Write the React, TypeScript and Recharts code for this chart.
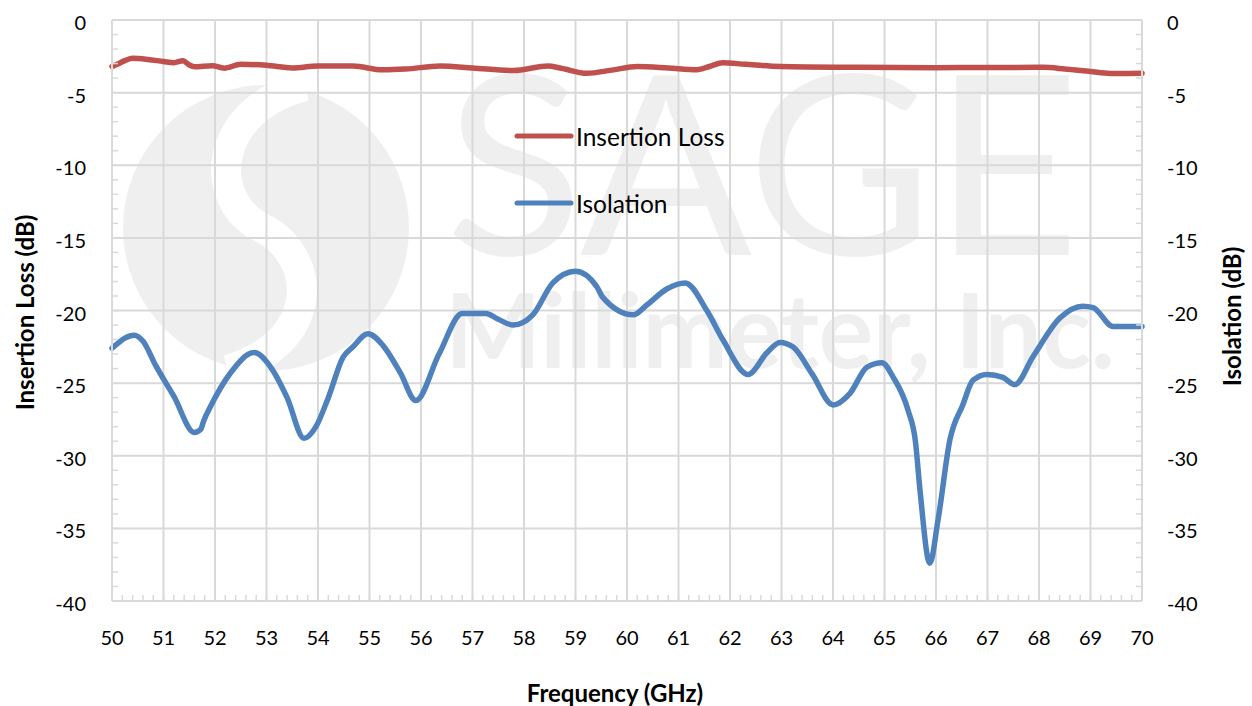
import React from 'react'
import { LineChart, Line, XAxis, YAxis, CartesianGrid, Legend, Label } from 'recharts'

// ─── Data ──────────────────────────────────────────────────────────────────
const freqMajor = [50, 51, 52, 53, 54, 55, 56, 57, 58, 59, 60, 61, 62, 63, 64, 65, 66, 67, 68, 69, 70]
const dbMajor = [-40, -35, -30, -25, -20, -15, -10, -5, 0]

const ilFreq = [
  50.0, 50.1, 50.25, 50.4, 50.7, 51.0, 51.2, 51.38, 51.5, 51.6, 51.95, 52.18, 52.5, 53.0, 53.5, 54.0,
  54.68, 55.25, 55.7, 56.37, 57.0, 57.8, 58.47, 58.7, 59.22, 59.7, 60.2, 60.8, 61.36, 61.6, 61.86,
  62.3, 62.97, 64.5, 66.0, 67.0, 68.08, 68.5, 69.0, 69.38, 70.0,
]
const ilValues = [
  -3.2, -3.05, -2.8, -2.64, -2.72, -2.86, -2.94, -2.8, -3.1, -3.22, -3.15, -3.32, -3.05, -3.12, -3.3, -3.17,
  -3.17, -3.43, -3.38, -3.17, -3.3, -3.48, -3.17, -3.3, -3.67, -3.45, -3.2, -3.3, -3.42, -3.2, -2.94,
  -3.05, -3.2, -3.26, -3.28, -3.27, -3.26, -3.37, -3.55, -3.68, -3.67,
]

const isoFreq = [
  50.0, 50.1, 50.25, 50.43, 50.6, 50.85, 51.2, 51.6, 51.72, 51.78, 51.9, 52.3, 52.76, 53.1, 53.4, 53.73,
  53.96, 54.2, 54.49, 54.68, 54.97, 55.26, 55.6, 55.9, 56.35, 56.8, 57.26, 57.5, 57.79, 58.17, 58.56,
  59.0, 59.42, 59.53, 60.12, 60.39, 60.78, 61.13, 61.55, 61.86, 62.35, 62.72, 62.97, 63.22, 63.6, 64.0,
  64.33, 64.66, 64.95, 65.17, 65.46, 65.6, 65.69, 65.88, 66.04, 66.27, 66.52, 66.72, 66.99, 67.3, 67.53,
  67.88, 68.41, 68.85, 69.05, 69.44, 70.0,
]
const isoValues = [
  -22.6, -22.3, -21.9, -21.7, -22.1, -23.8, -25.9, -28.4, -28.2, -27.6, -26.7, -24.3, -22.9, -24.0, -26.0, -28.8,
  -28.0, -26.0, -23.2, -22.5, -21.6, -22.4, -24.3, -26.2, -23.0, -20.2, -20.2, -20.6, -21.0, -20.3, -18.1,
  -17.3, -18.4, -19.1, -20.3, -19.6, -18.5, -18.1, -20.0, -22.0, -24.4, -22.9, -22.2, -22.5, -24.4, -26.5,
  -25.7, -23.9, -23.6, -24.6, -26.9, -29.0, -32.4, -37.4, -34.4, -28.9, -26.5, -24.8, -24.4, -24.6, -25.1,
  -23.2, -20.5, -19.7, -19.8, -21.1, -21.1,
]

const ilData = ilFreq.map((f, i) => ({ f, v: ilValues[i] }))
const isoData = isoFreq.map((f, i) => ({ f, v: isoValues[i] }))

// minor ticks: x every 0.2 GHz, y every 1 dB
const freqTicks: number[] = []
freqMajor.forEach(m => {
  if (m === 70) { freqTicks.push(m); return }
  for (let k = 0; k < 5; k++) freqTicks.push(Math.round((m + k * 0.2) * 10) / 10)
})
const dbTicks: number[] = []
for (let d = -40; d <= 0; d++) dbTicks.push(d)

const FONT = "Lato, 'Open Sans', sans-serif"
const GRID = '#d9d9d9'
const RED = '#C0504D'
const BLUE = '#4F81BD'

const isInt = (v: number) => Math.abs(v - Math.round(v)) < 1e-6

// ─── Tick renderers ──────────────────────────────────────────────────────────
function XTick({ x, y, payload }: any) {
  if (!isInt(payload.value)) return null
  return (
    <text x={x} y={y + 42} textAnchor="middle" dominantBaseline="central" fontSize={20} fontFamily={FONT} fill="#000">
      {payload.value}
    </text>
  )
}

function LeftTick({ x, y, payload }: any) {
  if (payload.value % 5 !== 0) return null
  return (
    <text x={x - 32} y={y + 2} textAnchor="end" dominantBaseline="central" fontSize={20} fontFamily={FONT} fill="#000">
      {payload.value}
    </text>
  )
}

function RightTick({ x, y, payload }: any) {
  if (payload.value % 5 !== 0) return null
  return (
    <text x={x + 31} y={y + 2} textAnchor="start" dominantBaseline="central" fontSize={20} fontFamily={FONT} fill="#000">
      {payload.value}
    </text>
  )
}

// ─── Legend ──────────────────────────────────────────────────────────────────
function LegendBox() {
  const items = [
    { name: 'Insertion Loss', color: RED },
    { name: 'Isolation', color: BLUE },
  ]
  return (
    <div style={{ fontFamily: FONT, fontSize: 24.5, color: '#000' }}>
      {items.map((d, i) => (
        <div key={i} style={{ display: 'flex', alignItems: 'center', height: 30, marginBottom: i === 0 ? 37 : 0 }}>
          <svg width={60} height={10} style={{ marginRight: 2 }}>
            <line x1={3} y1={5} x2={57} y2={5} stroke={d.color} strokeWidth={5} strokeLinecap="round" />
          </svg>
          <span>{d.name}</span>
        </div>
      ))}
    </div>
  )
}

// ─── Watermark (plot area background) ────────────────────────────────────────
function Watermark() {
  const c = '#efefef'
  return (
    <svg width={1252} height={706} style={{ position: 'absolute', left: 0, top: 0 }}>
      <circle cx={266} cy={228} r={143} fill={c} />
      <path d="M 305 86 C 212 110, 206 200, 262 228 C 318 256, 322 342, 228 370" fill="none" stroke="#fff" strokeWidth={30} />
      <text x={445} y={255} fontFamily={FONT} fontWeight={400} fontSize={250} fill={c} textLength={635} lengthAdjust="spacingAndGlyphs">
        SAGE
      </text>
      <text x={445} y={368} fontFamily={FONT} fontWeight={700} fontSize={104} fill={c} textLength={670} lengthAdjust="spacingAndGlyphs">
        Millimeter, Inc.
      </text>
    </svg>
  )
}

const xToPx = (f: number, o: any) => o.left + ((f - 50) / 20) * o.width
const yToPx = (d: number, o: any) => o.top + (-d / 40) * o.height

export default function App() {
  return (
    <div style={{ position: 'absolute', left: 0, top: 0, width: 1252, height: 706, background: '#fff' }}>
      <Watermark />
      <div style={{ position: 'absolute', left: 0, top: 0 }}>
        <LineChart width={1252} height={706} margin={{ top: 20, right: 0, bottom: 0, left: 0 }}>
          <CartesianGrid
            stroke={GRID}
            strokeWidth={2}
            verticalCoordinatesGenerator={({ offset }: any) => freqMajor.map(f => xToPx(f, offset))}
            horizontalCoordinatesGenerator={({ offset }: any) => dbMajor.map(d => yToPx(d, offset))}
          />
          <XAxis
            dataKey="f"
            type="number"
            domain={[50, 70]}
            ticks={freqTicks}
            interval={0}
            height={105}
            axisLine={{ stroke: GRID, strokeWidth: 2 }}
            tickLine={{ stroke: GRID, strokeWidth: 1.5 }}
            tickSize={-6}
            tickMargin={0}
            tick={<XTick />}
            allowDuplicatedCategory={false}
          >
            <Label
              content={({ viewBox }: any) => (
                <text
                  x={viewBox.x + viewBox.width / 2 - 12}
                  y={viewBox.y + 91}
                  textAnchor="middle"
                  dominantBaseline="central"
                  fontSize={24}
                  fontWeight={700}
                  fontFamily={FONT}
                  fill="#000"
                >
                  Frequency (GHz)
                </text>
              )}
            />
          </XAxis>
          <YAxis
            yAxisId="left"
            type="number"
            domain={[-40, 0]}
            ticks={dbTicks}
            interval={0}
            width={112}
            axisLine={{ stroke: GRID, strokeWidth: 2 }}
            tickLine={{ stroke: GRID, strokeWidth: 1.5 }}
            tickSize={-6}
            tickMargin={0}
            tick={<LeftTick />}
            allowDataOverflow
          >
            <Label
              content={({ viewBox }: any) => {
                const cx = viewBox.x + 24
                const cy = viewBox.y + viewBox.height / 2 + 2
                return (
                  <text
                    x={cx}
                    y={cy}
                    transform={`rotate(-90, ${cx}, ${cy})`}
                    textAnchor="middle"
                    dominantBaseline="central"
                    fontSize={24}
                    fontWeight={700}
                    fontFamily={FONT}
                    fill="#000"
                  >
                    Insertion Loss (dB)
                  </text>
                )
              }}
            />
          </YAxis>
          <YAxis
            yAxisId="right"
            orientation="right"
            type="number"
            domain={[-40, 0]}
            ticks={dbTicks}
            interval={0}
            width={110}
            axisLine={{ stroke: GRID, strokeWidth: 2 }}
            tickLine={{ stroke: GRID, strokeWidth: 1.5 }}
            tickSize={-6}
            tickMargin={0}
            tick={<RightTick />}
            allowDataOverflow
          >
            <Label
              content={({ viewBox }: any) => {
                const cx = viewBox.x + 89
                const cy = viewBox.y + viewBox.height / 2 + 6
                return (
                  <text
                    x={cx}
                    y={cy}
                    transform={`rotate(-90, ${cx}, ${cy})`}
                    textAnchor="middle"
                    dominantBaseline="central"
                    fontSize={24}
                    fontWeight={700}
                    fontFamily={FONT}
                    fill="#000"
                  >
                    Isolation (dB)
                  </text>
                )
              }}
            />
          </YAxis>
          <Legend
            layout="vertical"
            align="center"
            verticalAlign="middle"
            content={<LegendBox />}
            wrapperStyle={{ position: 'absolute', left: 514, top: 121, width: 260 }}
          />
          <Line
            yAxisId="left"
            data={ilData}
            dataKey="v"
            name="Insertion Loss"
            type="monotone"
            stroke={RED}
            strokeWidth={5.5}
            strokeLinecap="round"
            dot={false}
            activeDot={false}
            isAnimationActive={false}
          />
          <Line
            yAxisId="right"
            data={isoData}
            dataKey="v"
            name="Isolation"
            type="monotone"
            stroke={BLUE}
            strokeWidth={5.5}
            strokeLinecap="round"
            dot={false}
            activeDot={false}
            isAnimationActive={false}
          />
        </LineChart>
      </div>
    </div>
  )
}
